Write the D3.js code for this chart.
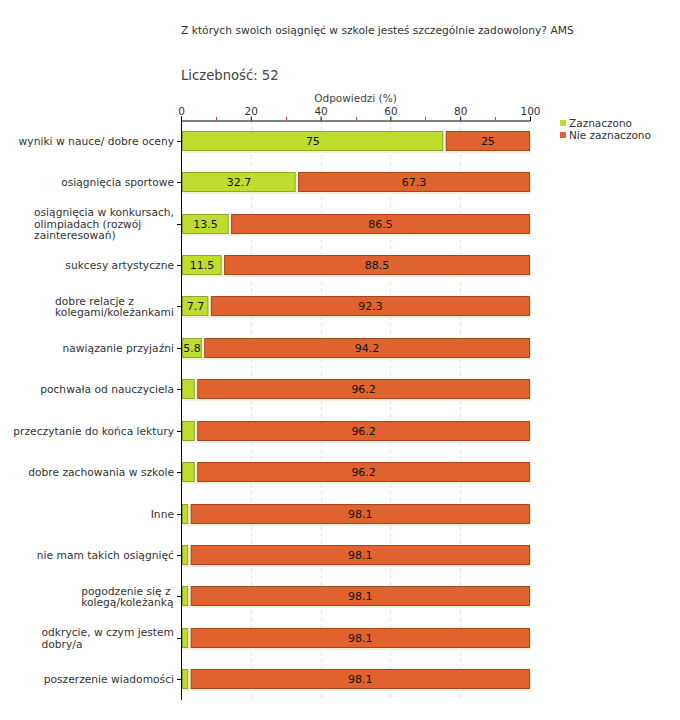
<!DOCTYPE html>
<html><head><meta charset="utf-8">
<script src="https://cdn.jsdelivr.net/npm/d3@7"></script>
<style>body{margin:0;background:#fff}svg{display:block}</style>
</head><body>
<script>
const categories = [
  ["wyniki w nauce/ dobre oceny"],
  ["osiągnięcia sportowe"],
  ["osiągnięcia w konkursach,","olimpiadach (rozwój","zainteresowań)"],
  ["sukcesy artystyczne"],
  ["dobre relacje z","kolegami/koleżankami"],
  ["nawiązanie przyjaźni"],
  ["pochwała od nauczyciela"],
  ["przeczytanie do końca lektury"],
  ["dobre zachowania w szkole"],
  ["Inne"],
  ["nie mam takich osiągnięć"],
  ["pogodzenie się z","kolegą/koleżanką"],
  ["odkrycie, w czym jestem","dobry/a"],
  ["poszerzenie wiadomości"]
];
const zaznaczono = [75, 32.7, 13.5, 11.5, 7.7, 5.8, 3.8, 3.8, 3.8, 1.9, 1.9, 1.9, 1.9, 1.9];
const nieZaznaczono = [25, 67.3, 86.5, 88.5, 92.3, 94.2, 96.2, 96.2, 96.2, 98.1, 98.1, 98.1, 98.1, 98.1];
const seriesNames = ["Zaznaczono", "Nie zaznaczono"];
const xTicks = [0, 20, 40, 60, 80, 100];
const minorTicks = [10, 30, 50, 70, 90];
const title = "Z których swoich osiągnięć w szkole jesteś szczególnie zadowolony? AMS";
const countLabel = "Liczebność: 52";
const axisTitle = "Odpowiedzi (%)";

const W = 680, H = 720;
const font = "DejaVu Sans, Verdana, sans-serif";
const svg = d3.select("body").append("svg").attr("width", W).attr("height", H)
  .style("font-family", font);

const x = d3.scaleLinear().domain([0, 100]).range([181, 530]);
const y = d3.scaleBand().domain(d3.range(categories.length)).range([120, 700]);
const barH = 20;
const green = "#bfdd2e", greenStroke = "#8ea72a";
const orange = "#e0622f", orangeStroke = "#a8451a";

svg.append("text").attr("x", 181).attr("y", 34).attr("font-size", 10.7).attr("fill", "#333").text(title);
svg.append("text").attr("x", 181).attr("y", 80).attr("font-size", 13.2).attr("fill", "#444").text(countLabel);
svg.append("text").attr("x", x(50)).attr("y", 102).attr("text-anchor", "middle").attr("font-size", 10.5).attr("fill", "#444").text(axisTitle);

// gridlines
svg.append("g").selectAll("line").data(xTicks.slice(1, -1)).join("line")
  .attr("x1", d => Math.round(x(d)) + 0.5).attr("x2", d => Math.round(x(d)) + 0.5)
  .attr("y1", 120).attr("y2", 700)
  .attr("stroke", "#dde2ee").attr("stroke-dasharray", "4,3");

// top axis
const xAxis = d3.axisTop(x).tickValues(xTicks).tickSize(4).tickPadding(2);
const gx = svg.append("g").attr("transform", "translate(0,120.5)").call(xAxis);
gx.select(".domain").attr("stroke", "#000");
gx.selectAll(".tick line").attr("stroke", "#000");
gx.selectAll(".tick text").attr("font-size", 10.5).attr("fill", "#333").attr("font-family", font);
svg.append("g").selectAll("line").data(minorTicks).join("line")
  .attr("x1", d => Math.round(x(d)) + 0.5).attr("x2", d => Math.round(x(d)) + 0.5)
  .attr("y1", 117).attr("y2", 120).attr("stroke", "#d04040");

// bars
const rows = svg.append("g").selectAll("g").data(categories).join("g")
  .attr("transform", (d, i) => `translate(0,${Math.round(y(i) + y.bandwidth() / 2 - barH / 2)})`);

// shadows
rows.append("rect").attr("x", x(0) + 2).attr("y", 2)
  .attr("width", (d, i) => x(100) - x(0) - 1).attr("height", barH)
  .attr("fill", "#f5eedc");

rows.append("rect").attr("x", x(0) + 1.5).attr("y", 0.5)
  .attr("width", (d, i) => Math.max(0, x(zaznaczono[i]) - x(0) - 1.5)).attr("height", barH - 1)
  .attr("fill", green).attr("stroke", greenStroke);
rows.append("rect").attr("x", (d, i) => x(zaznaczono[i]) + 3.5).attr("y", 0.5)
  .attr("width", (d, i) => x(100) - x(zaznaczono[i]) - 4).attr("height", barH - 1)
  .attr("fill", orange).attr("stroke", orangeStroke);

rows.filter((d, i) => x(zaznaczono[i]) - x(0) > 17).append("text")
  .attr("x", (d, i) => (x(0) + x(zaznaczono[i])) / 2 + 1).attr("y", barH / 2 + 4)
  .attr("text-anchor", "middle").attr("font-size", 11).attr("fill", "#111")
  .text((d, i) => zaznaczono[i]);
rows.append("text")
  .attr("x", (d, i) => (x(zaznaczono[i]) + 3 + x(100)) / 2).attr("y", barH / 2 + 4)
  .attr("text-anchor", "middle").attr("font-size", 11).attr("fill", "#111")
  .text((d, i) => nieZaznaczono[i]);

// y axis
svg.append("line").attr("x1", 181.5).attr("x2", 181.5).attr("y1", 120).attr("y2", 700).attr("stroke", "#000");
svg.append("g").selectAll("line").data(categories).join("line")
  .attr("x1", 177).attr("x2", 181).attr("y1", (d, i) => Math.round(y(i) + y.bandwidth() / 2) + 0.5)
  .attr("y2", (d, i) => Math.round(y(i) + y.bandwidth() / 2) + 0.5).attr("stroke", "#000");

// category labels
const lineH = 11.5;
categories.forEach((lines, i) => {
  const cy = y(i) + y.bandwidth() / 2;
  const t = svg.append("text").attr("font-size", 10.7).attr("fill", "#333");
  const y0 = cy + 4 - (lines.length - 1) * lineH / 2;
  lines.forEach((l, j) => t.append("tspan").attr("x", 0).attr("y", y0 + j * lineH).text(l));
  const w = t.node().getBBox().width;
  t.attr("transform", `translate(${174 - w},0)`);
});

// legend
const lg = svg.append("g");
seriesNames.forEach((n, i) => {
  lg.append("rect").attr("x", 560).attr("y", 120 + i * 12).attr("width", 6).attr("height", 6)
    .attr("fill", i ? orange : green);
  lg.append("text").attr("x", 569).attr("y", 127 + i * 12).attr("font-size", 10.5).attr("fill", "#333").text(n);
});
</script>
</body></html>
